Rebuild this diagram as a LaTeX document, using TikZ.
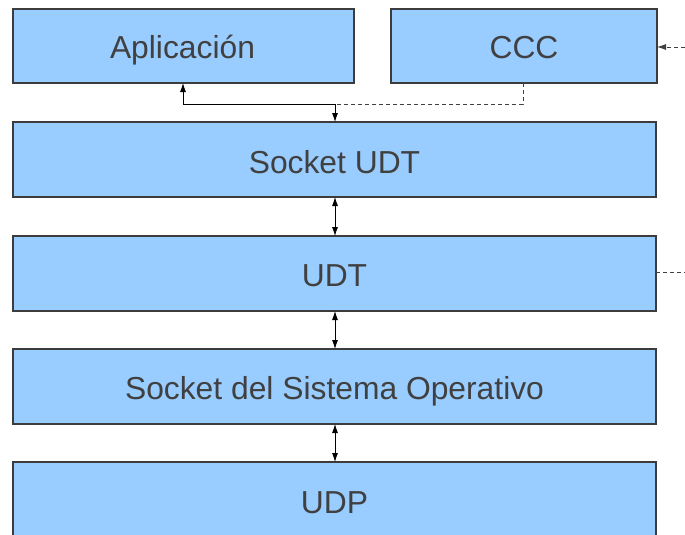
\documentclass[tikz,border=0pt]{standalone}
\usepackage{fontspec}
\setmainfont{Liberation Sans}
\usetikzlibrary{arrows.meta}
\definecolor{boxfill}{HTML}{99CCFF}
\definecolor{boxline}{HTML}{3C3C3C}
\definecolor{boxtext}{HTML}{404040}
\tikzset{
  layer/.style={draw=boxline, fill=boxfill, line width=1.3pt, inner sep=0pt},
  label/.style={text=boxtext, anchor=base, inner sep=0pt, font=\fontsize{31.8}{36}\selectfont},
  link/.style={line width=0.8pt, -{Latex[length=9pt,width=6pt]}},
  duplex/.style={line width=0.8pt, {Latex[length=9pt,width=6pt]}-{Latex[length=9pt,width=6pt]}},
  ctrl/.style={line width=0.8pt, dash pattern=on 4pt off 3pt, draw=black!75},
}
\begin{document}
\begin{tikzpicture}[x=1pt,y=-1pt]
\useasboundingbox (0,0) rectangle (685,535);
\clip (0,0) rectangle (685,535);
% protocol layers
\draw[layer] (13,9) rectangle (354,83);
\node[label] (app) at (182.5,58.5) {Aplicación};
\coordinate (appb) at (183,83);
\draw[layer] (391,9) rectangle (657,83);
\node[label] (ccc) at (524,58.5) {CCC};
\coordinate (cccb) at (523,83);
\coordinate (cccr) at (657,47);
\draw[layer] (13,122) rectangle (656,197);
\node[label] (sudt) at (334.5,173) {Socket UDT};
\draw[layer] (13,236) rectangle (656,311);
\node[label] (udt) at (334.5,286.5) {UDT};
\coordinate (udtr) at (656,272);
\draw[layer] (13,349) rectangle (656,424);
\node[label] (sos) at (334.5,399) {Socket del Sistema Operativo};
\draw[layer] (13,462) rectangle (656,560);
\node[label] (udp) at (334.5,513) {UDP};
% connectors
\coordinate (join) at (335,104);
\coordinate (sudtt) at (335,122);
\coordinate (sudtb) at (335,197);
\coordinate (udtt) at (335,236);
\coordinate (udtb) at (335,311);
\coordinate (sost) at (335,349);
\coordinate (sosb) at (335,424);
\coordinate (udpt) at (335,462);
\coordinate (east1) at (685,47);
\coordinate (east2) at (685,272);
\draw[link] (join) -| (appb);
\draw[link] (join) -- (sudtt);
\draw[ctrl] (cccb) |- (join);
\draw[ctrl, -{Latex[length=9pt,width=6pt]}] (east1) -- (cccr);
\draw[ctrl] (udtr) -- (east2);
\draw[duplex] (sudtb) -- (udtt);
\draw[duplex] (udtb) -- (sost);
\draw[duplex] (sosb) -- (udpt);
\end{tikzpicture}
\end{document}
